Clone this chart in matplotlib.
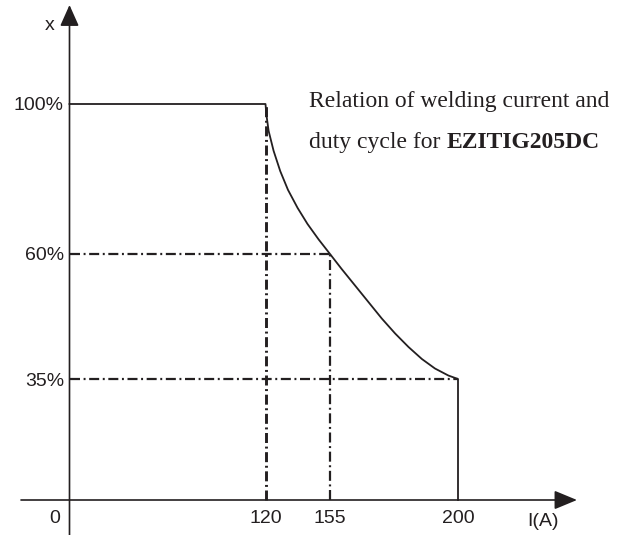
import numpy as np
import matplotlib
matplotlib.use("Agg")
import matplotlib.pyplot as plt

# ---- data ----
current_ticks = [120, 155, 200]
current_labels = ["120", "155", "200"]
duty_ticks = [35, 60, 100]
duty_labels = ["35%", "60%", "100%"]
curve_current = [120, 120.5, 121.7, 124.4, 128.0, 132.2, 137.4, 142.8, 148.8, 155,
                 159.1, 163.8, 168.5, 173.2, 177.9, 182.6, 187.3, 191.9, 196.6, 200]
curve_duty = [100, 97.1, 92.8, 87.5, 82.1, 77.1, 72.3, 68.0, 63.9, 60,
              57.0, 53.7, 50.4, 47.1, 44.1, 41.4, 39.0, 37.1, 35.7, 35]

# schematic (non-linear) axes of the original drawing: value -> position
x_scale_vals = [0, 120, 155, 200]
x_scale_pos = [69.5, 265.5, 330, 458]
y_scale_vals = [0, 35, 60, 100]
y_scale_pos = [35, 156, 281, 431]

W, H = 625, 535
INK = "#231f20"
plt.rcParams["lines.scale_dashes"] = False


def make_maps(vals, pos):
    vals = np.asarray(vals, float)
    pos = np.asarray(pos, float)

    def interp(v, a, b):
        v = np.asarray(v, float)
        out = np.interp(v, a, b)
        s0 = (b[1] - b[0]) / (a[1] - a[0])
        s1 = (b[-1] - b[-2]) / (a[-1] - a[-2])
        out = np.where(v < a[0], b[0] + (v - a[0]) * s0, out)
        out = np.where(v > a[-1], b[-1] + (v - a[-1]) * s1, out)
        return out

    return (lambda v: interp(v, vals, pos)), (lambda p: interp(p, pos, vals))


fx, ix = make_maps(x_scale_vals, x_scale_pos)
fy, iy = make_maps(y_scale_vals, y_scale_pos)

fig = plt.figure(figsize=(W / 100, H / 100), dpi=100)
ax = fig.add_axes([0, 0, 1, 1])
ax.set_xscale("function", functions=(fx, ix))
ax.set_yscale("function", functions=(fy, iy))
ax.set_xlim(float(ix(0)), float(ix(W)))
ax.set_ylim(float(iy(0)), float(iy(H)))

for s in ax.spines.values():
    s.set_visible(False)
ax.spines["left"].set_position(("data", 0))
ax.spines["bottom"].set_position(("data", 0))

# axes with arrows
ax.annotate("", xy=(577 / W, 0), xytext=(21 / W, 0),
            xycoords=("axes fraction", "data"),
            arrowprops=dict(arrowstyle="-|>,head_length=1.4,head_width=0.58",
                            lw=1.2, color=INK, shrinkA=0, shrinkB=0))
ax.annotate("", xy=(0, 1 - 5 / H), xytext=(0, 0),
            xycoords=("data", "axes fraction"),
            arrowprops=dict(arrowstyle="-|>,head_length=1.3,head_width=0.58",
                            lw=1.2, color=INK, shrinkA=0, shrinkB=0))

# dash-dot guide lines
dd = (7.2, 2.6, 1.4, 2.6)
pairs = list(zip(current_ticks, duty_ticks[::-1]))  # (120,100),(155,60),(200,35)
for c, d in pairs:
    if c != current_ticks[-1]:
        ax.plot([c, c], [0, d], color=INK, lw=2.1 if c == current_ticks[0] else 1.6,
                dashes=dd, zorder=2)
    if d != duty_ticks[-1]:
        ax.plot([0, c], [d, d], color=INK, lw=1.6, dashes=dd, zorder=2)

# main curve
line_x = [0] + curve_current + [curve_current[-1]]
line_y = [curve_duty[0]] + curve_duty + [0]
ax.plot(line_x, line_y, color=INK, lw=1.3, solid_joinstyle="round", zorder=3)

sans = ["Liberation Sans", "DejaVu Sans"]
serif = ["Liberation Serif", "DejaVu Serif"]

ax.set_xticks(current_ticks)
ax.set_xticklabels(current_labels, family=sans, fontsize=14, color=INK)
ax.set_yticks(duty_ticks)
ax.set_yticklabels(duty_labels, family=sans, fontsize=14, color=INK)
ax.tick_params(axis="x", length=0, pad=7)
ax.tick_params(axis="y", length=0, pad=4)

ax.annotate("0", xy=(0, 0), xytext=(-10.5, -13.5), textcoords="offset points",
            ha="center", va="center", family=sans, fontsize=14, color=INK)
ax.annotate("x", xy=(0, 1 - 25 / H), xycoords=("data", "axes fraction"),
            xytext=(-14, 0), textcoords="offset points",
            ha="center", va="center", family=sans, fontsize=14, color=INK)
ax.annotate("I(A)", xy=(543 / W, 0), xycoords=("axes fraction", "data"),
            xytext=(0, -15.5), textcoords="offset points",
            ha="center", va="center", family=sans, fontsize=14, color=INK)

t1 = fig.text(309 / W, 1 - 107 / H, "Relation of welding current and",
              family=serif, fontsize=17, color=INK, va="baseline", ha="left")
t2 = fig.text(309 / W, 1 - 148 / H, "duty cycle for",
              family=serif, fontsize=17, color=INK, va="baseline", ha="left")
ax.annotate("EZITIG205DC", xy=(1, 0), xycoords=t2, xytext=(4.5, 0),
            textcoords="offset points", va="bottom", ha="left",
            family=serif, fontsize=17, fontweight="bold", color=INK)

fig.savefig("out.png", dpi=100)
